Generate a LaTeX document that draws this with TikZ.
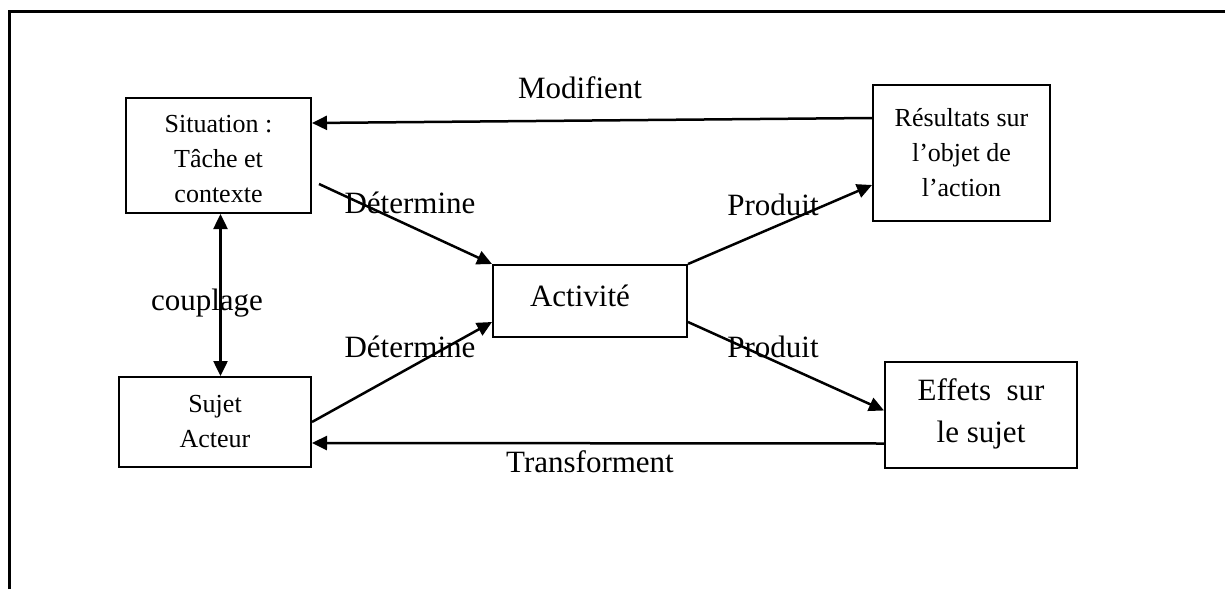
\documentclass[tikz,border=0pt]{standalone}
\usepackage{fontspec}
\setmainfont{Liberation Serif}
\usetikzlibrary{arrows.meta}
\newcommand{\boite}[6]{\node[boite, minimum width=#4, minimum height=#5, font=#6] (#1) at (#2,#3) {};}
\newcommand{\lien}[2]{\draw[fleche] (#1)--(#2);}
\tikzset{
  boite/.style={draw, line width=2pt, inner sep=0pt, align=center},
  fleche/.style={line width=2.5pt, -{Triangle[length=15pt,width=14pt]}},
  etiq/.style={font=\fontsize{31}{36}\selectfont}
}

\begin{document}
\begin{tikzpicture}[x=1pt, y=-1pt]
  \useasboundingbox (0,0) rectangle (1225,589);
  \draw[line width=3pt] (9,589) -- (9,11) -- (1225,11);

  % Boites
  % ------
  \boite{sit}{218.5}{155.5}{185pt}{115pt}{\fontsize{26}{35}\selectfont}
  \node[font=\fontsize{26}{35}\selectfont, align=center] (tsit) at (218.5,159) {Situation :\\Tâche et\\contexte};

  \boite{res}{961.5}{153}{177pt}{136pt}{\fontsize{26}{35}\selectfont}
  \node[font=\fontsize{26}{35}\selectfont, align=center] (tres) at (961.5,153) {Résultats sur\\l’objet de\\l’action};

  \boite{act}{590}{301}{194pt}{72pt}{}
  \node[etiq] (tact) at (580,296) {Activité};

  \boite{suj}{215}{422}{192pt}{90pt}{}
  \node[font=\fontsize{26}{35}\selectfont, align=center] (tsuj) at (215,422) {Sujet\\Acteur};

  \boite{eff}{981}{414.5}{192pt}{106pt}{}
  \node[etiq, align=center, font=\fontsize{31}{42}\selectfont] (teff) at (981,414) {Effets~ sur\\le sujet};

  % Liens
  % -----
  \lien{[yshift=35pt]res.west}{[yshift=32.5pt]sit.east}
  \lien{[xshift=7pt,yshift=30pt]sit.south east}{act.north west}
  \lien{suj.east}{[yshift=-21pt]act.west}
  \lien{act.north east}{[yshift=-32pt]res.west}
  \lien{[yshift=-21pt]act.east}{[yshift=4pt]eff.west}
  \lien{[yshift=-29pt]eff.west}{[yshift=-21pt]suj.east}
  \coordinate (hc) at ([xshift=2pt]sit.south);
  \draw[fleche, {Triangle[length=15pt,width=14pt]}-{Triangle[length=15pt,width=14pt]}] (hc) -- (hc |- suj.north);

  % Etiquettes
  % ----------
  \node[etiq] (modif) at (580,88) {Modifient};
  \node[etiq] (det1) at (410,203) {Détermine};
  \node[etiq] (prod1) at (773,205) {Produit};
  \node[etiq] (coupl) at (207,303) {couplage};
  \node[etiq] (det2) at (410,347) {Détermine};
  \node[etiq] (prod2) at (773,347) {Produit};
  \node[etiq] (transf) at (590,462) {Transforment};
\end{tikzpicture}
\end{document}
